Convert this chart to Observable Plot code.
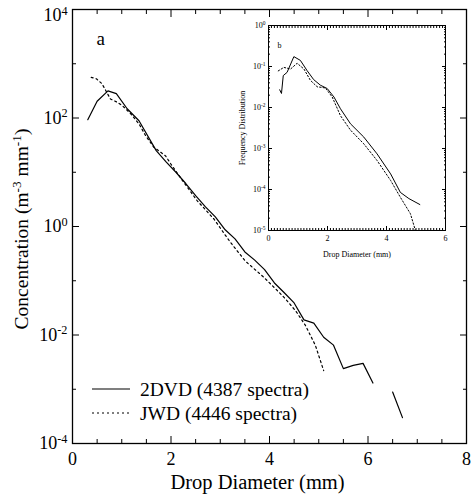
<!DOCTYPE html>
<html><head><meta charset="utf-8">
<script src="https://cdn.jsdelivr.net/npm/d3@7"></script>
<script src="https://cdn.jsdelivr.net/npm/@observablehq/plot@0.6"></script>
<style>
body{margin:0;background:#fff}
#wrap{position:relative;width:472px;height:497px;font-family:"Liberation Serif","DejaVu Serif",serif;}
#wrap > svg{position:absolute;}
#wrap text{font-family:"Liberation Serif","DejaVu Serif",serif;}
</style></head><body><div id="wrap"></div>
<script>
// ---------- main panel (a) ----------
const mainXTicks = [0, 2, 4, 6, 8];
const mainXMinor = [0.5, 1, 1.5, 2.5, 3, 3.5, 4.5, 5, 5.5, 6.5, 7, 7.5];
const mainYTicks = [1e-4, 1e-2, 1, 1e2, 1e4];
const mainYLabels = ["10^-4", "10^-2", "10^0", "10^2", "10^4"];
const mainYMinor = [1e-3, 1e-1, 10, 1e3];
const mainXTitle = "Drop Diameter (mm)";
const mainYTitle = "Concentration (m^-3 mm^-1)";

const dvdD = [0.31, 0.50, 0.72, 0.89, 1.11, 1.35, 1.70, 1.90, 2.10, 2.30, 2.50, 2.70, 2.90, 3.10, 3.30, 3.50, 3.70, 3.90, 4.10, 4.30, 4.50, 4.70, 4.90, 5.10, 5.30, 5.50, 5.70, 5.90, 6.10, 6.30, 6.50, 6.70];
const dvdN = [93, 204, 316, 282, 148, 89, 25, 15.5, 10, 6.2, 3.7, 2.3, 1.5, 0.87, 0.59, 0.34, 0.24, 0.16, 0.091, 0.060, 0.039, 0.019, 0.0166, 0.0091, 0.0065, 0.0024, 0.00275, 0.0030, 0.0013, null, 0.00089, 0.00030];

const jwdD = [0.38, 0.49, 0.60, 0.77, 0.91, 1.01, 1.18, 1.35, 1.48, 1.65, 1.89, 1.99, 2.23, 2.53, 2.87, 3.20, 3.51, 3.88, 4.09, 4.29, 4.53, 4.73, 4.93, 5.10];
const jwdN = [562, 525, 427, 224, 195, 170, 120, 78, 48, 29, 20, 14.5, 7.1, 3.0, 1.38, 0.52, 0.23, 0.117, 0.076, 0.050, 0.028, 0.015, 0.0065, 0.0022];

// ---------- inset panel (b) ----------
const insetXTicks = [0, 2, 4, 6];
const insetXLabels = ["0", "2", "4", "6"];
const insetYTicks = [1e-5, 1e-4, 1e-3, 1e-2, 1e-1, 1];
const insetYLabels = ["10^-5", "10^-4", "10^-3", "10^-2", "10^-1", "10^0"];

const insetDvdD = [0.38, 0.44, 0.50, 0.63, 0.86, 1.08, 1.31, 1.53, 1.76, 1.99, 2.22, 2.44, 2.78, 3.23, 3.68, 4.14, 4.47, 4.76, 5.13];
const insetDvdF = [0.027, 0.022, 0.060, 0.072, 0.174, 0.141, 0.079, 0.048, 0.035, 0.029, 0.018, 0.0093, 0.0040, 0.0019, 0.00074, 0.00024, 0.000085, 0.000060, 0.000043];

const insetJwdD = [0.33, 0.52, 0.75, 0.97, 1.20, 1.42, 1.65, 1.93, 2.16, 2.44, 2.78, 3.23, 3.68, 4.14, 4.47, 4.81, 4.98];
const insetJwdF = [0.078, 0.095, 0.087, 0.12, 0.087, 0.046, 0.032, 0.030, 0.018, 0.0063, 0.0028, 0.0013, 0.00051, 0.000166, 0.0000646, 0.0000257, 0.00001];

const legendLabels = ["2DVD (4387 spectra)", "JWD (4446 spectra)"];

const dvd = dvdD.map((d, i) => ({D: d, N: dvdN[i]}));
const jwd = jwdD.map((d, i) => ({D: d, N: jwdN[i]}));
const iDvd = insetDvdD.map((d, i) => ({D: d, F: insetDvdF[i]}));
const iJwd = insetJwdD.map((d, i) => ({D: d, F: insetJwdF[i]}));

const serif = '"Liberation Serif", "DejaVu Serif", serif';
const mainLab = new Map(mainYTicks.map((v, i) => [v, mainYLabels[i]]));
const insetLab = new Map(insetYTicks.map((v, i) => [v, insetYLabels[i]]));
const insetXLab = new Map(insetXTicks.map((v, i) => [v, insetXLabels[i]]));
const insetXMinor = d3.range(0, 6.01, 0.1).map(v => +v.toFixed(1));
const insetYMinor = [];
for (const t of insetYTicks.slice(0, -1)) for (let k = 2; k <= 9; k++) insetYMinor.push(t * k);

const main = Plot.plot({
  width: 472, height: 497,
  marginLeft: 72, marginRight: 6, marginTop: 9, marginBottom: 54,
  style: {fontFamily: serif, fontSize: "18px", color: "#000", background: "transparent", overflow: "visible"},
  x: {domain: [0, 8]},
  y: {type: "log", domain: [1e-4, 1e4]},
  marks: [
    Plot.axisX({anchor: "bottom", ticks: mainXTicks, tickSize: -7, tickFormat: () => "", label: null}),
    Plot.axisX({anchor: "bottom", ticks: mainXMinor, tickSize: -4, tickFormat: () => "", label: null}),
    Plot.axisX({anchor: "top", ticks: mainXTicks, tickSize: -7, tickFormat: () => "", label: null}),
    Plot.axisX({anchor: "top", ticks: mainXMinor, tickSize: -4, tickFormat: () => "", label: null}),
    Plot.axisY({anchor: "left", ticks: mainYTicks, tickSize: -7, tickFormat: () => "", label: null}),
    Plot.axisY({anchor: "left", ticks: mainYMinor, tickSize: -4, tickFormat: () => "", label: null}),
    Plot.axisY({anchor: "right", ticks: mainYTicks, tickSize: -7, tickFormat: () => "", label: null}),
    Plot.axisY({anchor: "right", ticks: mainYMinor, tickSize: -4, tickFormat: () => "", label: null}),
    Plot.axisX({anchor: "bottom", ticks: mainXTicks, tickSize: 0, tickPadding: 9, fontSize: 18, label: null}),
    Plot.axisY({anchor: "left", ticks: mainYTicks, tickSize: 0, tickPadding: 5, fontSize: 18,
      tickFormat: d => mainLab.get(d), label: null}),
    Plot.text([mainXTitle], {frameAnchor: "bottom", dx: -12, dy: 45, fontSize: 20.5}),
    Plot.frame({strokeWidth: 1.3}),
    Plot.line(dvd, {x: "D", y: "N", stroke: "black", strokeWidth: 1.2}),
    Plot.line(jwd, {x: "D", y: "N", stroke: "black", strokeWidth: 1.2, strokeDasharray: "2,3"}),
    Plot.text(["a"], {frameAnchor: "top-left", dx: 24, dy: 22, fontSize: 19})
  ]
});

const inset = Plot.plot({
  width: 217, height: 240,
  marginLeft: 33, marginRight: 7, marginTop: 7, marginBottom: 28,
  style: {fontFamily: serif, fontSize: "8px", color: "#000", background: "transparent", overflow: "visible"},
  x: {domain: [0, 6]},
  y: {type: "log", domain: [1e-5, 1]},
  marks: [
    Plot.frame({fill: "white", stroke: "none"}),
    Plot.axisX({anchor: "bottom", ticks: insetXTicks, tickSize: -4, tickFormat: () => "", label: null}),
    Plot.axisX({anchor: "bottom", ticks: insetXMinor, tickSize: -2, tickFormat: () => "", label: null}),
    Plot.axisX({anchor: "top", ticks: insetXTicks, tickSize: -4, tickFormat: () => "", label: null}),
    Plot.axisX({anchor: "top", ticks: insetXMinor, tickSize: -2, tickFormat: () => "", label: null}),
    Plot.axisY({anchor: "left", ticks: insetYTicks, tickSize: -4, tickFormat: () => "", label: null}),
    Plot.axisY({anchor: "left", ticks: insetYMinor, tickSize: -2, tickFormat: () => "", label: null}),
    Plot.axisY({anchor: "right", ticks: insetYTicks, tickSize: -4, tickFormat: () => "", label: null}),
    Plot.axisY({anchor: "right", ticks: insetYMinor, tickSize: -2, tickFormat: () => "", label: null}),
    Plot.axisX({anchor: "bottom", ticks: insetXTicks, tickSize: 0, tickPadding: 5, fontSize: 8,
      tickFormat: d => insetXLab.get(d),
      label: "Drop Diameter (mm)", labelAnchor: "center", labelOffset: 26, labelArrow: false}),
    Plot.axisY({anchor: "left", ticks: insetYTicks, tickSize: 0, tickPadding: 3, fontSize: 8,
      tickFormat: d => insetLab.get(d),
      label: "Frequency Distribution", labelAnchor: "center", labelOffset: 29, labelArrow: false}),
    Plot.frame({strokeWidth: 1}),
    Plot.line(iDvd, {x: "D", y: "F", stroke: "black", strokeWidth: 1, clip: true}),
    Plot.line(iJwd, {x: "D", y: "F", stroke: "black", strokeWidth: 1, strokeDasharray: "1.5,2", clip: true}),
    Plot.text(["b"], {frameAnchor: "top-left", dx: 9, dy: 17, fontSize: 8})
  ]
});

const wrap = document.getElementById("wrap");
main.style.left = "0px"; main.style.top = "0px";
wrap.appendChild(main);

const ns = "http://www.w3.org/2000/svg";

function fillSup(n, s, fs) {
  n.textContent = "";
  const parts = s.split(/\^(-?\d+)/);
  let raised = false;
  parts.forEach((p, i) => {
    const ts = document.createElementNS(ns, "tspan");
    ts.textContent = p;
    if (i % 2 === 1) {
      ts.setAttribute("dy", (-0.36 * fs).toFixed(2));
      ts.setAttribute("font-size", (0.68 * fs).toFixed(2));
      raised = true;
    } else if (raised) {
      ts.setAttribute("dy", (0.36 * fs).toFixed(2));
      raised = false;
    }
    if (p !== "") n.appendChild(ts);
  });
}

// overlay: legend and y-axis title
const leg = document.createElementNS(ns, "svg");
leg.setAttribute("width", 472); leg.setAttribute("height", 497);
leg.style.left = "0px"; leg.style.top = "0px";
leg.style.fontFamily = serif; leg.style.fontSize = "19.5px";
const legDash = [null, "2,3"];
legendLabels.forEach((lab, i) => {
  const y = 389 + i * 24;
  const ln = document.createElementNS(ns, "line");
  ln.setAttribute("x1", 92); ln.setAttribute("x2", 130);
  ln.setAttribute("y1", y); ln.setAttribute("y2", y);
  ln.setAttribute("stroke", "black"); ln.setAttribute("stroke-width", 1.2);
  if (legDash[i]) ln.setAttribute("stroke-dasharray", legDash[i]);
  leg.appendChild(ln);
  const tx = document.createElementNS(ns, "text");
  tx.setAttribute("x", 140); tx.setAttribute("y", y); tx.setAttribute("dy", "0.35em");
  tx.textContent = lab;
  leg.appendChild(tx);
});
const yt = document.createElementNS(ns, "text");
yt.setAttribute("transform", "translate(28,229) rotate(-90)");
yt.setAttribute("text-anchor", "start");
yt.setAttribute("font-size", 19.5);
leg.appendChild(yt);
wrap.appendChild(leg);
fillSup(yt, mainYTitle, 19.5);
yt.setAttribute("x", (-yt.getComputedTextLength() / 2).toFixed(2));

inset.style.left = "235px"; inset.style.top = "18px";
wrap.appendChild(inset);

function supify(svg) {
  svg.querySelectorAll("text").forEach(t => {
    const s = t.textContent;
    if (!s.includes("^")) return;
    const fs = parseFloat(getComputedStyle(t).fontSize) || 10;
    fillSup(t, s, fs);
    const r = t.getBoundingClientRect();
    if (r.top < 4) {
      const tr = t.getAttribute("transform") || "";
      t.setAttribute("transform", `${tr} translate(0,${(4 - r.top).toFixed(2)})`);
    }
  });
}
supify(main);
supify(inset);
</script>
</body></html>
